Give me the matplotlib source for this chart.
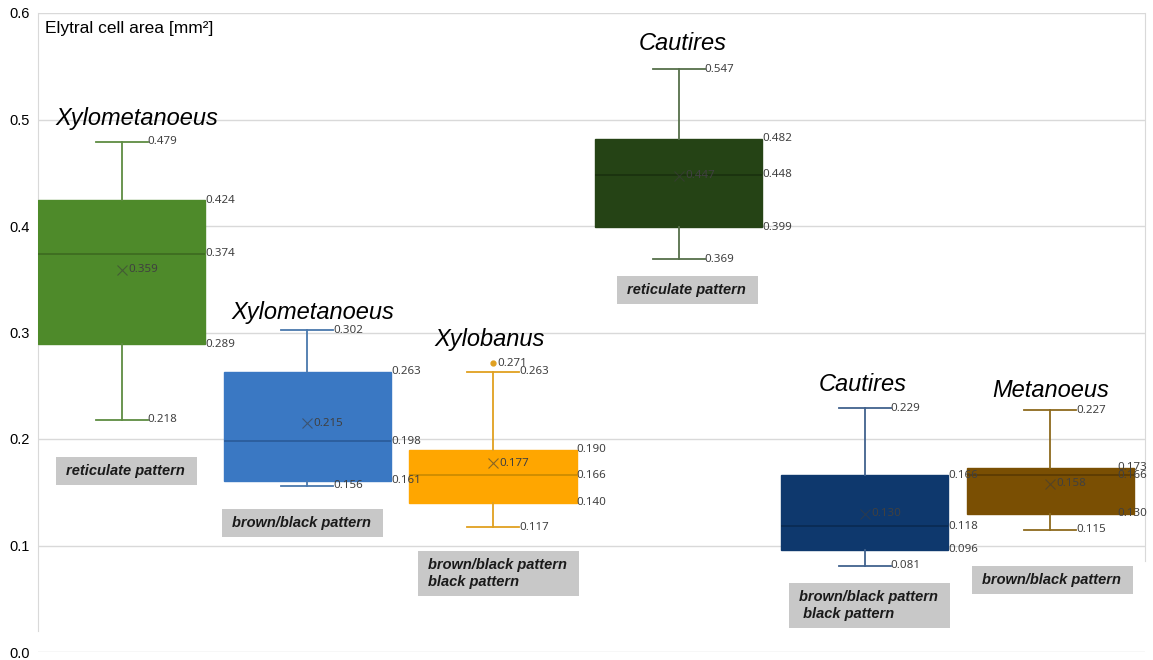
import matplotlib
matplotlib.use("Agg")
import matplotlib.pyplot as plt
from matplotlib.patches import Rectangle

# elytral cell area per genus / colour pattern group
genera = ["Xylometanoeus", "Xylometanoeus", "Xylobanus", "Cautires", "Cautires", "Metanoeus"]
patterns = ["reticulate pattern", "brown/black pattern", "brown/black pattern\nblack pattern",
            "reticulate pattern", "brown/black pattern\n black pattern", "brown/black pattern"]
whislo = [0.218, 0.156, 0.117, 0.369, 0.081, 0.115]
q1 = [0.289, 0.161, 0.140, 0.399, 0.096, 0.130]
med = [0.374, 0.198, 0.166, 0.448, 0.118, 0.166]
q3 = [0.424, 0.263, 0.190, 0.482, 0.166, 0.173]
whishi = [0.479, 0.302, 0.263, 0.547, 0.229, 0.227]
means = [0.359, 0.215, 0.177, 0.447, 0.130, 0.158]
fliers = [[], [], [0.271], [], [], []]

fills = ["#4e8a2a", "#3a78c3", "#ffa600", "#254315", "#0e386d", "#7a4f03"]
lines = ["#5e8c42", "#4a78ad", "#e0a020", "#56704a", "#41628e", "#8d6a1e"]
medcol = ["#3c6a20", "#2a5a98", "#c88a00", "#1a300e", "#0a2a52", "#5a3a02"]

# layout of the genus names and pattern tags (data coords)
title_x = [0.08, 1.03, 1.98, 3.02, 3.99, 5.0]
title_y = [0.501, 0.319, 0.293, 0.571, 0.251, 0.246]
tag_x = [-0.30, 0.593, 1.652, 2.722, 3.647, 4.631]
tag_y = [0.170, 0.121, 0.074, 0.340, 0.044, 0.068]

W = 0.9
CAP = 0.28
XMAX = 5.51

fig = plt.figure(figsize=(11.53, 6.6), dpi=100)
ax = fig.add_axes([38 / 1153, 8 / 660, (1145 - 38) / 1153, (652 - 13) / 660])

stats = [dict(whislo=whislo[i], q1=q1[i], med=med[i], q3=q3[i], whishi=whishi[i],
              mean=means[i], fliers=fliers[i]) for i in range(len(genera))]
pos = list(range(len(genera)))
bp = ax.bxp(stats, positions=pos, widths=W, capwidths=CAP, patch_artist=True,
            showmeans=True, zorder=3)

for i in pos:
    bp["boxes"][i].set(facecolor=fills[i], edgecolor=fills[i], linewidth=1)
    bp["medians"][i].set(color=medcol[i], linewidth=1.2)
    for ln in bp["whiskers"][2 * i:2 * i + 2] + bp["caps"][2 * i:2 * i + 2]:
        ln.set(color=lines[i], linewidth=1.3)
    bp["means"][i].set(marker="x", markersize=7, markeredgecolor="#3c3c3c",
                       markerfacecolor="none", markeredgewidth=0.8, alpha=0.6)
    bp["fliers"][i].set(marker="o", markersize=3.5, markerfacecolor=lines[i],
                        markeredgecolor=lines[i])

lab = dict(fontsize=8.3, family="Noto Sans", color="#404040", va="center", zorder=5)
last = pos[-1]
for i in pos:
    for v in (q1[i], med[i], q3[i]):
        if i == last:
            # no room right of the last box: keep the labels inside the plot
            ax.text(XMAX + 0.01, v, f"{v:.3f}", ha="right", **lab)
        else:
            ax.text(i + W / 2, v, f"{v:.3f}", ha="left", **lab)
    for v in (whislo[i], whishi[i]):
        ax.text(i + CAP / 2, v, f"{v:.3f}", ha="left", **lab)
    ax.text(i + 0.035, means[i], f"{means[i]:.3f}", ha="left", **lab)
    for v in fliers[i]:
        ax.text(i + 0.025, v, f"{v:.3f}", ha="left", **lab)

for i in pos:
    ax.text(title_x[i], title_y[i], genera[i], fontsize=17, style="italic",
            family="Liberation Sans", ha="center", va="center", zorder=5)

tags = []
for i in pos:
    tags.append(ax.text(tag_x[i], tag_y[i], patterns[i], fontsize=10.5, style="italic",
                        weight="bold", family="Liberation Sans", ha="left", va="center",
                        linespacing=1.25, color="#1a1a1a", zorder=6))

ax.text(-0.41, 0.585, "Elytral cell area [mm²]", fontsize=12.5, family="Liberation Sans",
        ha="left", va="center")

ax.set_xlim(-0.45, XMAX)
ax.set_ylim(0, 0.6)
ax.set_yticks([0.0, 0.1, 0.2, 0.3, 0.4, 0.5, 0.6])
ax.set_yticklabels([f"{t:.1f}" for t in ax.get_yticks()], family="Liberation Sans", fontsize=10.5)
ax.tick_params(axis="y", length=0, pad=6)
ax.set_xticks([])
for t in [0.1, 0.2, 0.3, 0.4, 0.5, 0.6]:
    ax.axhline(t, color="#d9d9d9", linewidth=1, zorder=0)
ax.axhline(0.0, color="#d9d9d9", linewidth=1, zorder=0)
for s in ("top", "bottom"):
    ax.spines[s].set_visible(False)
ax.spines["left"].set_bounds(0.02, 0.6)
ax.spines["right"].set_bounds(0.085, 0.6)
for s in ("left", "right"):
    ax.spines[s].set_color("#d9d9d9")
ax.patch.set_alpha(0)

# grey tag boxes sized from the rendered text
fig.canvas.draw()
renderer = fig.canvas.get_renderer()
inv = ax.transData.inverted()
for t in tags:
    bb = t.get_window_extent(renderer)
    (x0, y0), (x1, y1) = inv.transform([(bb.x0 - 10, bb.y0 - 7), (bb.x1 + 12, bb.y1 + 7)])
    ax.add_patch(Rectangle((x0, y0), x1 - x0, y1 - y0, facecolor="#c8c8c8",
                           edgecolor="none", zorder=5))

fig.savefig("out.png", dpi=100)
